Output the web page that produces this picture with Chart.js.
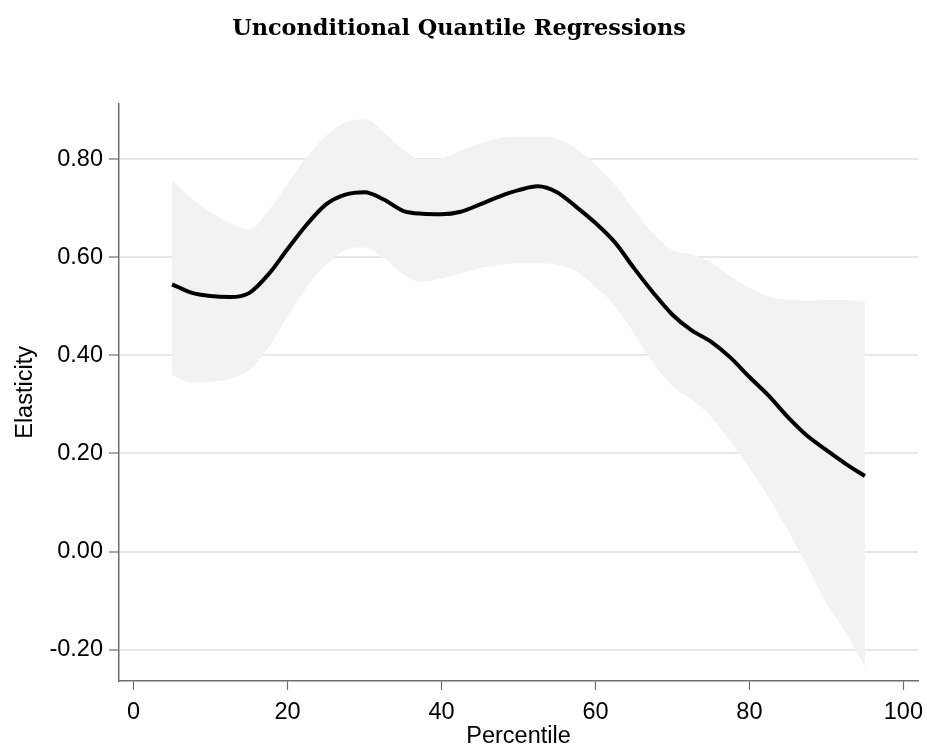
<!DOCTYPE html>
<html>
<head>
<meta charset="utf-8">
<script src="https://cdn.jsdelivr.net/npm/chart.js@4"></script>
<style>
  body { margin: 0; background: #fff; }
  #wrap { width: 927px; height: 746px; }
</style>
</head>
<body>
<div id="wrap"><canvas id="qreg" width="927" height="746"></canvas></div>
<script>
// data
var percentiles = [5, 7.5, 10, 12.5, 15, 17.5, 20, 22.5, 25, 27.5, 30, 32.5, 35, 37.5, 40, 42.5, 45, 47.5,
  50, 52.5, 55, 57.5, 60, 62.5, 65, 67.5, 70, 72.5, 75, 77.5, 80, 82.5, 85, 87.5, 90, 92.5, 95];
var elasticity = [0.545, 0.528, 0.521, 0.519, 0.527, 0.565, 0.617, 0.667, 0.708, 0.728, 0.733, 0.718, 0.695,
  0.689, 0.688, 0.693, 0.708, 0.724, 0.737, 0.745, 0.733, 0.703, 0.670, 0.631, 0.578, 0.528, 0.483, 0.451,
  0.428, 0.396, 0.356, 0.318, 0.274, 0.236, 0.207, 0.179, 0.154];
var ciUpper = [0.758, 0.720, 0.693, 0.670, 0.657, 0.695, 0.750, 0.805, 0.848, 0.875, 0.882, 0.855, 0.820,
  0.800, 0.802, 0.818, 0.832, 0.843, 0.846, 0.846, 0.842, 0.822, 0.789, 0.748, 0.697, 0.648, 0.615, 0.606,
  0.590, 0.562, 0.538, 0.520, 0.514, 0.512, 0.513, 0.513, 0.510];
var ciLower = [0.360, 0.345, 0.346, 0.352, 0.370, 0.415, 0.480, 0.540, 0.585, 0.615, 0.620, 0.598, 0.566,
  0.550, 0.557, 0.567, 0.578, 0.584, 0.588, 0.588, 0.585, 0.572, 0.540, 0.502, 0.445, 0.385, 0.337, 0.310,
  0.275, 0.226, 0.170, 0.111, 0.043, -0.030, -0.105, -0.165, -0.234];
var xTicks = [0, 20, 40, 60, 80, 100];
var yTicks = [-0.2, 0, 0.2, 0.4, 0.6, 0.8];

function pts(ys) {
  return percentiles.map(function (p, i) { return { x: p, y: ys[i] }; });
}

var axisCol = '#6e6e6e';
var lbl = { family: "'Liberation Sans', Arial, sans-serif", size: 23.5 };

new Chart(document.getElementById('qreg'), {
  type: 'line',
  data: {
    datasets: [
      {
        label: 'Elasticity',
        data: pts(elasticity),
        borderColor: '#000',
        borderWidth: 4,
        pointRadius: 0,
        fill: false,
        cubicInterpolationMode: 'monotone'
      },
      {
        label: 'upper',
        data: pts(ciUpper),
        borderWidth: 0,
        borderColor: 'rgba(0,0,0,0)',
        backgroundColor: '#f2f2f2',
        pointRadius: 0,
        fill: '+1',
        cubicInterpolationMode: 'monotone'
      },
      {
        label: 'lower',
        data: pts(ciLower),
        borderWidth: 0,
        borderColor: 'rgba(0,0,0,0)',
        pointRadius: 0,
        fill: false,
        cubicInterpolationMode: 'monotone'
      }
    ]
  },
  options: {
    responsive: false,
    animation: false,
    layout: { padding: { left: 0, right: 9, top: 0, bottom: 0 } },
    plugins: {
      legend: { display: false },
      tooltip: { enabled: false },
      title: {
        display: true,
        text: 'Unconditional Quantile Regressions',
        color: '#000',
        font: { family: "'DejaVu Serif', serif", size: 22.4, weight: 'bold' },
        padding: { top: 16, bottom: 61 }
      }
    },
    scales: {
      x: {
        type: 'linear',
        min: -1.9,
        max: 101.9,
        afterBuildTicks: function (s) { s.ticks = xTicks.map(function (v) { return { value: v }; }); },
        afterFit: function (s) { s.height = 65; s.paddingLeft = 0; s.paddingRight = 0; },
        grid: { drawOnChartArea: false, color: axisCol, tickLength: 9, tickWidth: 1.2 },
        border: { color: axisCol, width: 1.5 },
        ticks: { color: '#000', font: lbl, padding: 8, maxRotation: 0 },
        title: { display: true, text: 'Percentile', color: '#000', font: lbl, padding: { top: 0, bottom: -5 } }
      },
      y: {
        min: -0.264,
        max: 0.913,
        afterBuildTicks: function (s) { s.ticks = yTicks.map(function (v) { return { value: v }; }); },
        afterFit: function (s) { s.width = 119; s.paddingTop = 0; s.paddingBottom = 0; },
        grid: { color: '#e8e8e8', lineWidth: 2, tickColor: axisCol, tickWidth: 1.2, tickLength: 10 },
        border: { color: axisCol, width: 1.5 },
        ticks: {
          color: '#000', font: lbl, padding: 6,
          callback: function (v) { return v.toFixed(2); }
        },
        title: { display: true, text: 'Elasticity', color: '#000', font: lbl, padding: 11 }
      }
    }
  }
});
</script>
</body>
</html>
